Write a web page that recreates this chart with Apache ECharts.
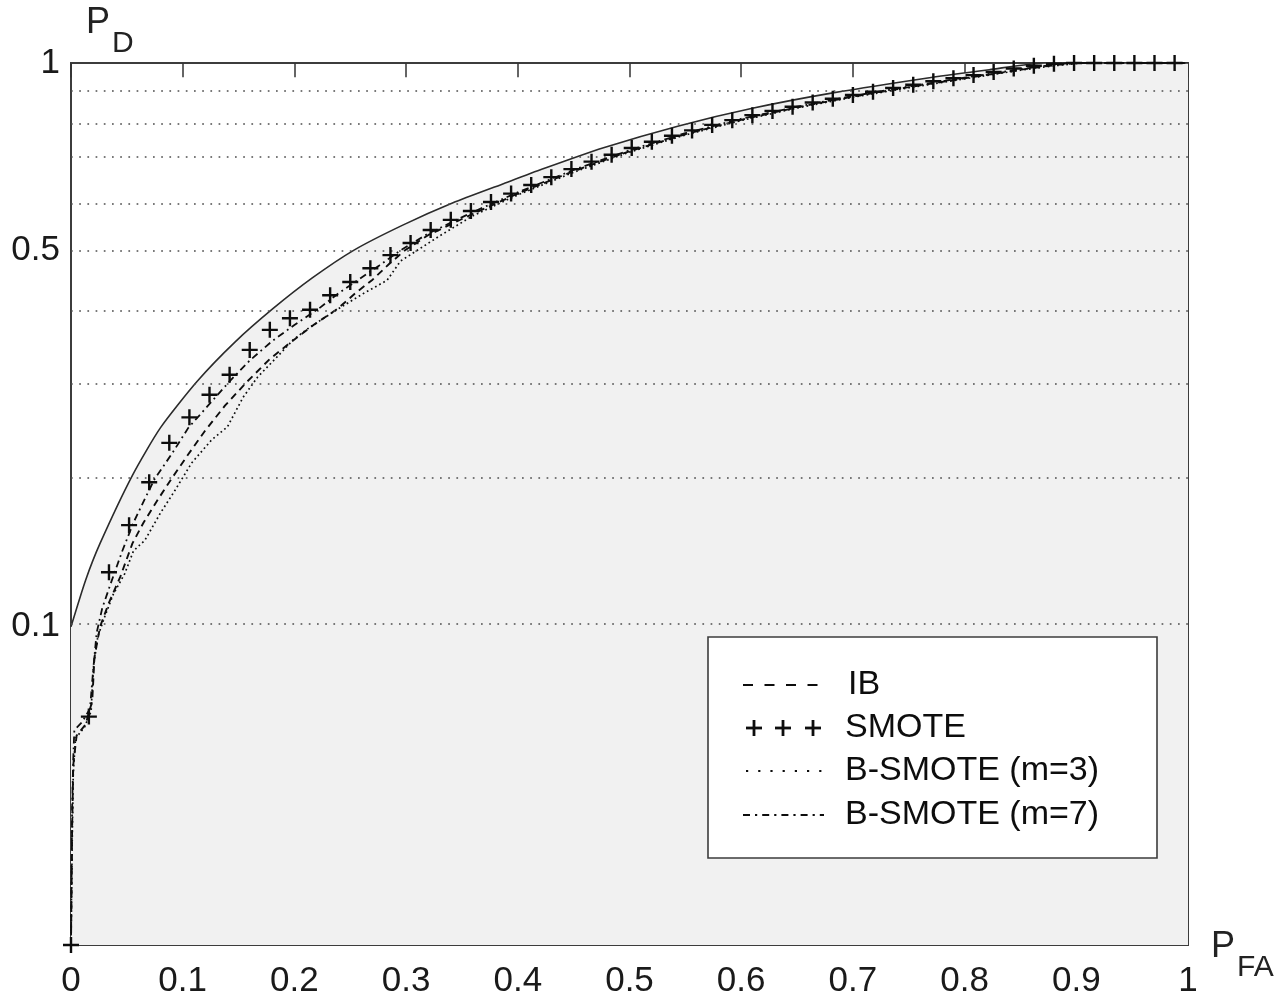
<!DOCTYPE html>
<html>
<head>
<meta charset="utf-8">
<script src="https://cdn.jsdelivr.net/npm/echarts@6/dist/echarts.min.js"></script>
<style>
  html, body { margin: 0; padding: 0; background: #fff; }
  #chart { width: 1284px; height: 1003px; }
</style>
</head>
<body>
<div id="chart"></div>
<script>
// P_D is plotted on a log(P_D + 0.05) scale, so 0 sits at the bottom of the frame.
const PD_OFFSET = 0.05;
const toAxis = v => Math.log10(v + PD_OFFSET);
const fromAxis = a => Math.pow(10, a) - PD_OFFSET;

const FONT = '"Liberation Sans", Arial, Helvetica, sans-serif';

// Tick labels and dotted reference levels on the P_D axis
const pdTickLabels = [0.1, 0.5, 1];
const pdGridLevels = [0.1, 0.2, 0.3, 0.4, 0.5, 0.6, 0.7, 0.8, 0.9];

// Upper bound curve (solid, shaded underneath)
const boundPfa = [0, 0.013, 0.026, 0.055, 0.080, 0.113, 0.147, 0.181, 0.216, 0.253, 0.297, 0.342, 0.386, 0.422, 0.476, 0.544, 0.610, 0.682, 0.770, 0.822, 0.872, 1.0];
const boundPd  = [0.100, 0.126, 0.150, 0.203, 0.248, 0.300, 0.351, 0.400, 0.450, 0.500, 0.550, 0.598, 0.641, 0.678, 0.733, 0.795, 0.848, 0.897, 0.949, 0.976, 1.0, 1.0];

// IB (dashed)
const ibPfa = [0, 0.001, 0.002, 0.005, 0.013, 0.019, 0.021, 0.026, 0.034, 0.044, 0.055, 0.065, 0.078, 0.090, 0.105, 0.120, 0.138, 0.158, 0.178, 0.198, 0.218, 0.239, 0.255, 0.270, 0.285, 0.299, 0.320, 0.360, 0.400, 0.450, 0.500, 0.550, 0.600, 0.650, 0.700, 0.750, 0.800, 0.850, 0.880, 0.900, 1.0];
const ibPd  = [0, 0.025, 0.043, 0.053, 0.057, 0.066, 0.085, 0.100, 0.113, 0.128, 0.150, 0.165, 0.183, 0.200, 0.222, 0.245, 0.272, 0.300, 0.328, 0.352, 0.376, 0.400, 0.425, 0.447, 0.475, 0.500, 0.530, 0.574, 0.619, 0.673, 0.724, 0.771, 0.813, 0.851, 0.885, 0.916, 0.946, 0.976, 0.992, 1.0, 1.0];

// SMOTE (plus markers)
const smotePfa = [0, 0.016, 0.034, 0.052, 0.070, 0.088, 0.106, 0.124, 0.142, 0.160, 0.178, 0.196, 0.214, 0.232, 0.250, 0.268, 0.286, 0.304, 0.322, 0.340, 0.358, 0.376, 0.394, 0.412, 0.430, 0.448, 0.466, 0.484, 0.502, 0.520, 0.538, 0.556, 0.574, 0.592, 0.610, 0.628, 0.646, 0.664, 0.682, 0.700, 0.718, 0.736, 0.754, 0.772, 0.790, 0.808, 0.826, 0.844, 0.862, 0.880, 0.898, 0.916, 0.934, 0.952, 0.970, 0.988];
const smotePd  = [0, 0.060, 0.131, 0.163, 0.197, 0.233, 0.259, 0.284, 0.308, 0.340, 0.368, 0.385, 0.398, 0.421, 0.443, 0.467, 0.491, 0.514, 0.540, 0.561, 0.580, 0.600, 0.619, 0.639, 0.658, 0.678, 0.697, 0.715, 0.733, 0.750, 0.767, 0.782, 0.798, 0.812, 0.827, 0.840, 0.853, 0.866, 0.878, 0.890, 0.901, 0.913, 0.924, 0.936, 0.946, 0.957, 0.968, 0.980, 0.990, 0.997, 1.0, 1.0, 1.0, 1.0, 1.0, 1.0];

// B-SMOTE (m=3) (dotted)
const bs3Pfa = [0, 0.001, 0.002, 0.004, 0.012, 0.018, 0.020, 0.024, 0.030, 0.038, 0.048, 0.056, 0.066, 0.080, 0.093, 0.108, 0.126, 0.140, 0.154, 0.167, 0.184, 0.199, 0.214, 0.238, 0.261, 0.283, 0.295, 0.310, 0.330, 0.360, 0.400, 0.450, 0.500, 0.550, 0.600, 0.650, 0.700, 0.750, 0.800, 0.850, 0.880, 0.905, 1.0];
const bs3Pd  = [0, 0.020, 0.040, 0.052, 0.056, 0.062, 0.080, 0.095, 0.105, 0.118, 0.130, 0.145, 0.152, 0.172, 0.190, 0.214, 0.236, 0.249, 0.281, 0.305, 0.330, 0.354, 0.372, 0.398, 0.423, 0.446, 0.480, 0.500, 0.528, 0.570, 0.616, 0.670, 0.722, 0.769, 0.811, 0.849, 0.883, 0.914, 0.944, 0.974, 0.990, 1.0, 1.0];

// B-SMOTE (m=7) (dash-dot)
const bs7Pfa = [0, 0.001, 0.002, 0.003, 0.010, 0.017, 0.020, 0.023, 0.028, 0.036, 0.046, 0.056, 0.066, 0.075, 0.090, 0.105, 0.120, 0.142, 0.160, 0.180, 0.200, 0.222, 0.240, 0.258, 0.276, 0.295, 0.320, 0.360, 0.400, 0.450, 0.500, 0.550, 0.600, 0.650, 0.700, 0.750, 0.800, 0.850, 0.880, 0.895, 1.0];
const bs7Pd  = [0, 0.030, 0.045, 0.055, 0.058, 0.063, 0.080, 0.097, 0.110, 0.125, 0.145, 0.165, 0.183, 0.200, 0.222, 0.248, 0.268, 0.300, 0.326, 0.352, 0.375, 0.400, 0.425, 0.448, 0.472, 0.500, 0.533, 0.578, 0.622, 0.676, 0.727, 0.774, 0.816, 0.853, 0.887, 0.918, 0.948, 0.978, 0.994, 1.0, 1.0];

const legendNames = ['IB', 'SMOTE', 'B-SMOTE (m=3)', 'B-SMOTE (m=7)'];

const pairs = (xs, ys) => xs.map((x, i) => [x, toAxis(ys[i])]);

const INK = '#0d0d0d';
const CROSS = 'path://M0,4.25H10V5.75H0Z M4.25,0H5.75V10H4.25Z';

const chart = echarts.init(document.getElementById('chart'), null, { renderer: 'canvas' });

// Legend drawn as a boxed key in the lower right of the plot
const LX = 708, LY = 637, LW = 449, LH = 221;
const rowY = [685, 728, 771, 815];
const legendItems = [
  { type: 'rect', shape: { x: LX, y: LY, width: LW, height: LH },
    style: { fill: '#fff', stroke: '#3c3c3c', lineWidth: 1.6 }, z: 10 },
  { type: 'line', shape: { x1: 743, y1: rowY[0], x2: 820, y2: rowY[0] },
    style: { stroke: INK, lineWidth: 2.2, lineDash: [10, 11.5] }, z: 11 },
  { type: 'line', shape: { x1: 746, y1: rowY[2], x2: 824, y2: rowY[2] },
    style: { stroke: INK, lineWidth: 2.2, lineDash: [2.2, 10] }, z: 11 },
  { type: 'line', shape: { x1: 743, y1: rowY[3], x2: 824, y2: rowY[3] },
    style: { stroke: INK, lineWidth: 2.2, lineDash: [7, 5, 2.2, 5] }, z: 11 }
];
[754, 783, 813].forEach(cx => {
  legendItems.push({ type: 'line', shape: { x1: cx - 8, y1: rowY[1], x2: cx + 8, y2: rowY[1] },
    style: { stroke: INK, lineWidth: 2.8 }, z: 11 });
  legendItems.push({ type: 'line', shape: { x1: cx, y1: rowY[1] - 8, x2: cx, y2: rowY[1] + 8 },
    style: { stroke: INK, lineWidth: 2.8 }, z: 11 });
});
legendNames.forEach((name, i) => {
  legendItems.push({ type: 'text', x: i === 0 ? 848 : 845, y: rowY[i],
    style: { text: name, fill: INK, font: '34px ' + FONT, textVerticalAlign: 'middle', textAlign: 'left' }, z: 11 });
});

const axisTitles = [
  { type: 'text', x: 86, y: 23, style: { text: 'P', fill: '#222', font: '36px ' + FONT, textVerticalAlign: 'middle' } },
  { type: 'text', x: 112, y: 44, style: { text: 'D', fill: '#222', font: '30px ' + FONT, textVerticalAlign: 'middle' } },
  { type: 'text', x: 1211, y: 947, style: { text: 'P', fill: '#222', font: '36px ' + FONT, textVerticalAlign: 'middle' } },
  { type: 'text', x: 1237, y: 968, style: { text: 'FA', fill: '#222', font: '30px ' + FONT, textVerticalAlign: 'middle' } }
];

const tickStyle = { show: true, inside: true, length: 8, lineStyle: { color: '#333', width: 1.5 } };

const option = {
  animation: false,
  backgroundColor: '#fff',
  grid: { left: 71, right: 96, top: 63, bottom: 58, show: true,
          borderColor: '#3c3c3c', borderWidth: 2, backgroundColor: '#fff' },
  xAxis: [
    { type: 'value', min: 0, max: 1, interval: 0.1, position: 'bottom',
      axisLine: { show: false }, axisTick: tickStyle, splitLine: { show: false },
      axisLabel: { fontSize: 35, color: '#1a1a1a', margin: 19, fontFamily: FONT } },
    { type: 'value', min: 0, max: 1, interval: 0.1, position: 'top',
      axisLine: { show: false }, axisTick: tickStyle, splitLine: { show: false },
      axisLabel: { show: false } }
  ],
  yAxis: {
    type: 'value', min: toAxis(0), max: toAxis(1),
    axisLine: { show: false }, axisTick: { show: false }, splitLine: { show: false },
    axisLabel: {
      customValues: pdTickLabels.map(toAxis),
      formatter: a => String(Math.round(fromAxis(a) * 10) / 10),
      fontSize: 35, color: '#1a1a1a', margin: 11, fontFamily: FONT
    }
  },
  series: [
    {
      name: 'bound', type: 'line', data: pairs(boundPfa, boundPd),
      showSymbol: false, smooth: 0.22, z: 1, silent: true,
      lineStyle: { color: '#2b2b2b', width: 1.6 },
      areaStyle: { color: '#f1f1f1', opacity: 1, origin: 'start' }
    },
    {
      name: 'levels', type: 'line', data: [], z: 2, silent: true,
      markLine: {
        silent: true, symbol: 'none', label: { show: false },
        lineStyle: { type: [1.7, 6.5], color: '#4d4d4d', width: 1.7 },
        emphasis: { disabled: true },
        data: pdGridLevels.map(v => ({ yAxis: toAxis(v) }))
      }
    },
    {
      name: legendNames[2], type: 'line', data: pairs(bs3Pfa, bs3Pd),
      showSymbol: false, z: 3, silent: true,
      lineStyle: { color: INK, width: 1.7, type: [1.7, 3] }
    },
    {
      name: legendNames[0], type: 'line', data: pairs(ibPfa, ibPd),
      showSymbol: false, z: 4, silent: true,
      lineStyle: { color: INK, width: 1.9, type: [7, 5] }
    },
    {
      name: legendNames[3], type: 'line', data: pairs(bs7Pfa, bs7Pd),
      showSymbol: false, z: 5, silent: true,
      lineStyle: { color: INK, width: 1.8, type: [7, 4, 1.8, 4] }
    },
    {
      name: legendNames[1], type: 'line', data: pairs(smotePfa, smotePd),
      showSymbol: true, showAllSymbol: true, symbol: CROSS, symbolSize: 16,
      z: 6, silent: true, clip: false,
      itemStyle: { color: INK },
      lineStyle: { width: 0, opacity: 0 }
    }
  ],
  graphic: { elements: axisTitles.concat(legendItems) }
};

chart.setOption(option);
</script>
</body>
</html>
